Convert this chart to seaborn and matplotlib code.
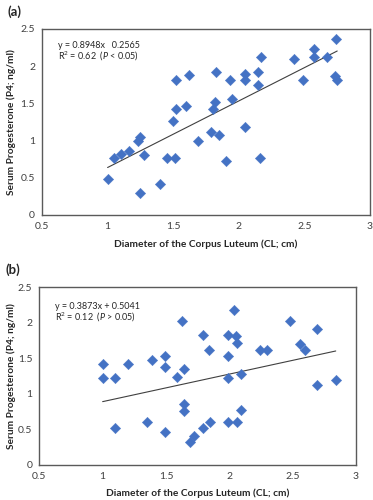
import numpy as np
import pandas as pd
import matplotlib
matplotlib.use("Agg")
import matplotlib.pyplot as plt
import seaborn as sns

# ---------------- data ----------------
cl_a = [2.74, 2.57, 2.57, 2.67, 2.42, 2.17, 2.73, 2.75, 2.49, 2.15,
        2.15, 2.05, 2.05, 1.93, 1.83, 1.62, 1.52, 1.95, 1.82, 1.80,
        1.60, 1.52, 1.50, 2.05, 1.79, 1.85, 1.69, 1.25, 1.23, 1.16,
        1.10, 1.05, 1.28, 1.45, 1.51, 1.90, 2.16, 1.00, 1.25, 1.40]
p4_a = [2.37, 2.23, 2.12, 2.12, 2.10, 2.13, 1.87, 1.82, 1.82, 1.92,
        1.75, 1.89, 1.82, 1.82, 1.92, 1.88, 1.82, 1.56, 1.52, 1.43,
        1.47, 1.42, 1.27, 1.18, 1.12, 1.08, 0.99, 1.05, 0.99, 0.86,
        0.82, 0.77, 0.80, 0.77, 0.77, 0.72, 0.77, 0.49, 0.30, 0.42]

cl_b = [2.04, 1.63, 2.48, 2.69, 1.79, 1.99, 2.05, 2.06, 2.56, 1.84,
        2.24, 2.30, 2.60, 1.99, 1.49, 1.39, 1.00, 1.20, 1.49, 1.64,
        1.00, 1.10, 1.59, 2.09, 1.99, 2.69, 2.84, 1.64, 1.64, 2.09,
        1.10, 1.35, 1.49, 1.69, 1.72, 1.79, 1.85, 1.99, 2.06]
p4_b = [2.18, 2.02, 2.02, 1.92, 1.83, 1.83, 1.82, 1.71, 1.70, 1.62,
        1.62, 1.62, 1.62, 1.53, 1.54, 1.48, 1.42, 1.42, 1.38, 1.35,
        1.23, 1.23, 1.24, 1.28, 1.22, 1.12, 1.20, 0.86, 0.76, 0.78,
        0.52, 0.60, 0.47, 0.32, 0.41, 0.52, 0.61, 0.61, 0.61]

slope_a, intercept_a = 0.8948, -0.2565
slope_b, intercept_b = 0.3873, 0.5041

eq_a = ["y = 0.8948x   0.2565", "0.62", "<"]
eq_b = ["y = 0.3873x + 0.5041", "0.12", ">"]

x_ticks = [0.5, 1, 1.5, 2, 2.5, 3]
y_ticks = [0, 0.5, 1, 1.5, 2, 2.5]
x_label = "Diameter of the Corpus Luteum (CL; cm)"
y_label = "Serum Progesterone (P4; ng/ml)"
panel_labels = ["(a)", "(b)"]

# ---------------- style ----------------
sns.set_style("white")
plt.rcParams['font.family'] = ['Lato', 'DejaVu Sans']
plt.rcParams['mathtext.fontset'] = 'custom'
plt.rcParams['mathtext.it'] = 'Lato:italic'
plt.rcParams['mathtext.rm'] = 'Lato'

blue = "#4472C4"
txt = "#404040"

fig = plt.figure(figsize=(3.73, 5.0), dpi=100)
ax_a = fig.add_axes([42/373, 1-215/500, 328/373, 186/500])
ax_b = fig.add_axes([39.3/373, 1-465/500, 316.7/373, 177.7/500])

def draw(ax, xs, ys, slope, intercept, eq, ty, xl_y, yl_x):
    df = pd.DataFrame({"x": xs, "y": ys})
    sns.scatterplot(data=df, x="x", y="y", ax=ax, marker="D", s=28,
                    color=blue, edgecolor=blue, linewidth=0.3, zorder=3)
    xr = np.array([min(xs), max(xs)])
    sns.lineplot(x=xr, y=slope * xr + intercept, ax=ax, color="#404040",
                 linewidth=0.8, zorder=2)
    ax.set_xlim(0.5, 3)
    ax.set_ylim(0, 2.5)
    ax.set_xticks(x_ticks)
    ax.set_xticklabels([f"{t:g}" for t in x_ticks])
    ax.set_yticks(y_ticks)
    ax.set_yticklabels([f"{t:g}" for t in y_ticks])
    ax.tick_params(axis="both", length=0, labelsize=7.5, colors=txt, pad=5)
    for s in ax.spines.values():
        s.set_visible(True)
        s.set_color("#5a5a5a")
        s.set_linewidth(1.0)
    ax.set_xlabel(x_label, fontsize=7.3, fontweight="bold", color="#262626")
    ax.set_ylabel(y_label, fontsize=7.3, fontweight="bold", color="#262626")
    ax.xaxis.label.set_va("center")
    ax.yaxis.label.set_va("center")
    ax.xaxis.set_label_coords(0.5, xl_y)
    ax.yaxis.set_label_coords(yl_x, 0.5)
    ax.text(0.05, ty, eq[0], transform=ax.transAxes, fontsize=6.5, color="#262626", va="center")
    ax.text(0.05, ty - 0.057, r"R$^2$ = " + eq[1] + r"  ($P$ " + eq[2] + " 0.05)",
            transform=ax.transAxes, fontsize=6.5, color="#262626", va="center")

draw(ax_a, cl_a, p4_a, slope_a, intercept_a, eq_a, 0.91, (215-244)/186, (11-42)/328)
draw(ax_b, cl_b, p4_b, slope_b, intercept_b, eq_b, 0.89, (465-493)/177.7, (11-39.3)/316.7)

fig.text(8/373, 1-12/500, panel_labels[0], fontsize=9.5, fontweight="bold", va="center")
fig.text(6/373, 1-270/500, panel_labels[1], fontsize=9.5, fontweight="bold", va="center")

fig.savefig("out.png", dpi=100)
